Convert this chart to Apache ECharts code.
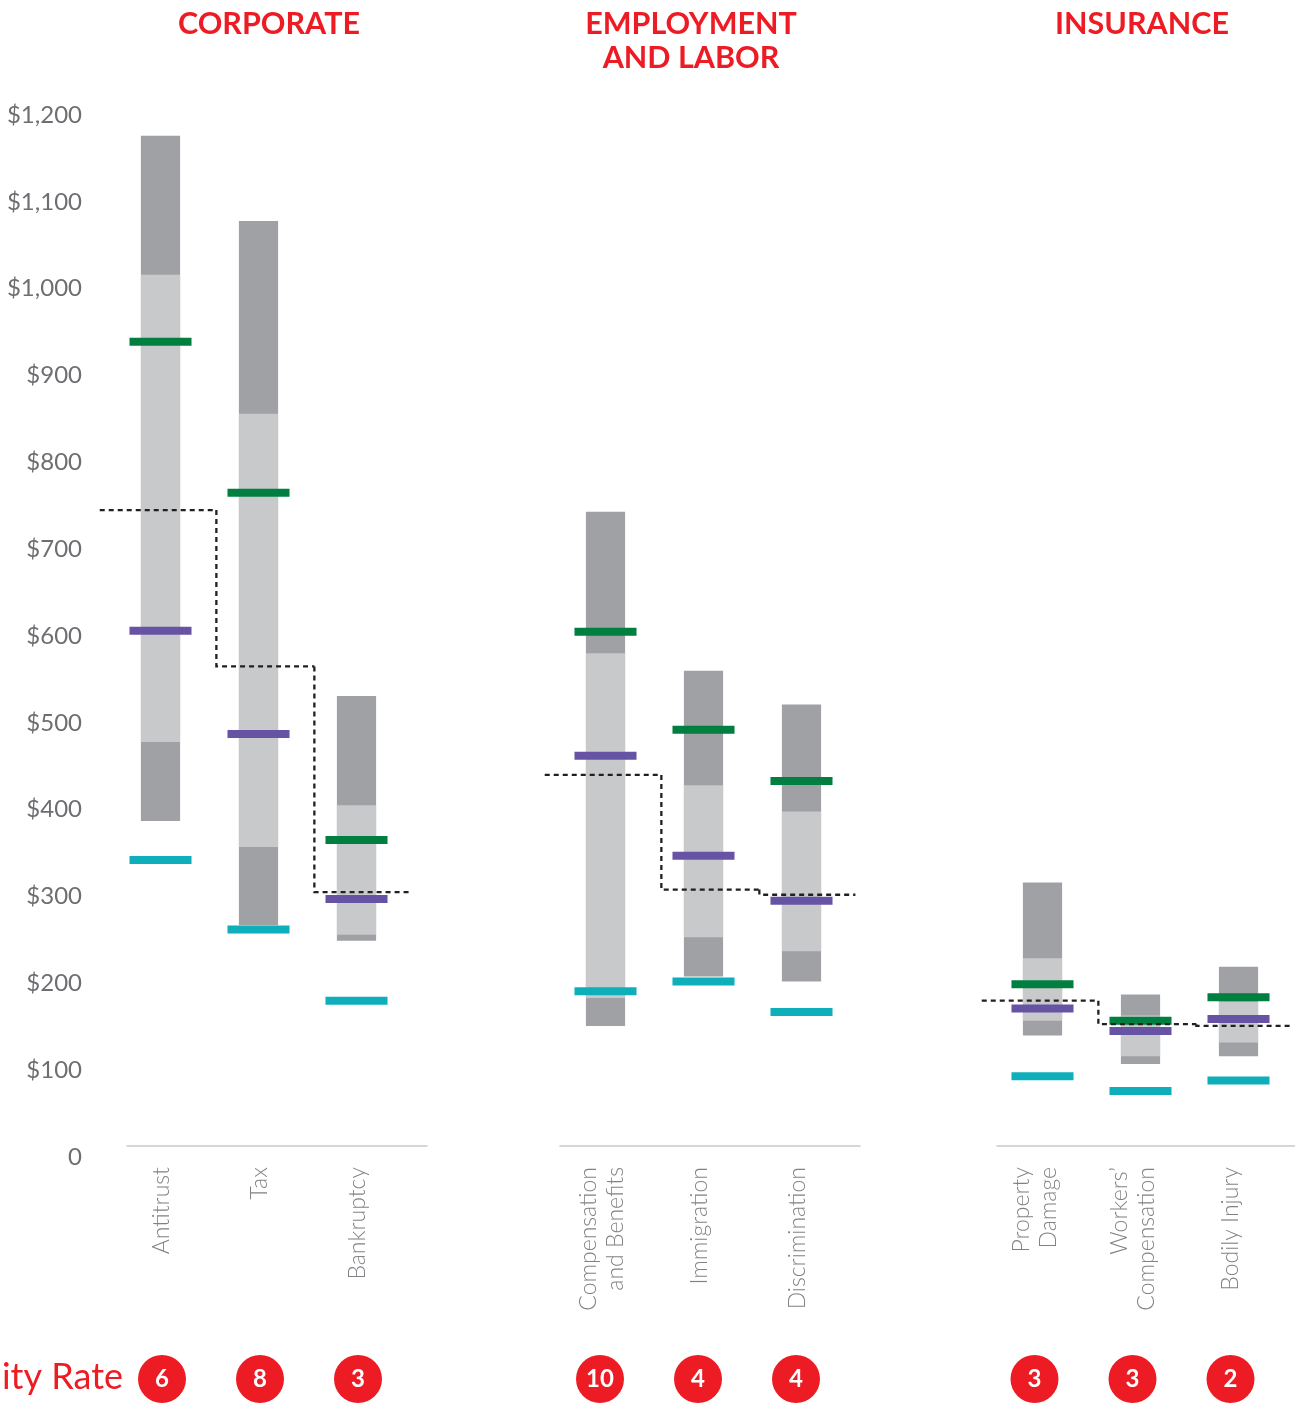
<!DOCTYPE html>
<html>
<head>
<meta charset="utf-8">
<script src="https://cdn.jsdelivr.net/npm/echarts@6/dist/echarts.min.js"></script>
<style>
html,body{margin:0;padding:0;background:#ffffff;}
#chart{width:1295px;height:1403px;}
</style>
</head>
<body>
<div id="chart"></div>
<script>
// ---- Data ----
const panelTitles = ['CORPORATE', 'EMPLOYMENT\nAND LABOR', 'INSURANCE'];
const categories = [
  ['Antitrust', 'Tax', 'Bankruptcy'],
  ['Compensation\nand Benefits', 'Immigration', 'Discrimination'],
  ['Property\nDamage', 'Workers\u2019\nCompensation', 'Bodily Injury']
];
const yTicks = [0, 100, 200, 300, 400, 500, 600, 700, 800, 900, 1000, 1100, 1200];
// values in panel order (3 per panel)
const rangeLow   = [387, 267, 249, 151, 208, 202, 140, 107, 116];
const rangeHigh  = [1176, 1078, 531, 743, 560, 521, 316, 187, 219];
const middleLow  = [478, 357, 256, 183, 253, 237, 157, 116, 132];
const middleHigh = [1016, 856, 405, 580, 428, 398, 229, 163, 179];
const greenMark  = [939, 765, 365, 605, 492, 433, 199, 157, 184];
const purpleMark = [606, 487, 297, 462, 347, 295, 171, 145, 159];
const cyanMark   = [342, 262, 180, 191, 202, 167, 93, 76, 88];
const dashedAvg  = [745, 565, 305, 440, 308, 302, 180, 153, 151];
const circleValues = [6, 8, 3, 10, 4, 4, 3, 3, 2];
const rowLabel = 'ity Rate';

// ---- Layout / style ----
const FONT = 'Lato, "Open Sans", "Noto Sans", sans-serif';
const RED = '#ed1c24';
const panelLeft = [111.5, 556.5, 993.5];
const labelLeft = [113, 553, 986];
const circleLeft = [113, 551, 985.5];
const panelWidth = 294;
const baseLeft = [127, 560, 997];
const baseWidth = [300, 300, 298];
const PLOT_TOP = 115, PLOT_BOTTOM = 246;

const grids = [], xAxes = [], yAxes = [], series = [], titles = [];
const titleCenters = [269, 691, 1142];

panelTitles.forEach((t, k) => {
  titles.push({
    text: t, left: titleCenters[k], top: 7, textAlign: 'center', padding: 0,
    textStyle: {color: RED, fontFamily: FONT, fontWeight: 'bold', fontSize: 30.5, lineHeight: 34}
  });
});

for (let k = 0; k < 3; k++) {
  const idx = [3 * k, 3 * k + 1, 3 * k + 2];
  // main plotting grid
  const gi = grids.length;
  grids.push({left: panelLeft[k], width: panelWidth, top: PLOT_TOP, bottom: PLOT_BOTTOM});
  xAxes.push({
    type: 'category', gridIndex: gi, data: categories[k],
    axisLine: {show: false}, axisTick: {show: false}, axisLabel: {show: false}
  });
  yAxes.push({
    type: 'value', gridIndex: gi, min: yTicks[0], max: yTicks[yTicks.length - 1], interval: 100,
    splitLine: {show: false}, axisLine: {show: false}, axisTick: {show: false},
    axisLabel: k === 0 ? {
      show: true, margin: 29.5, color: '#6d6e71', fontFamily: FONT, fontSize: 24,
      formatter: v => v === 0 ? '0' : '$' + v.toLocaleString('en-US')
    } : {show: false}
  });

  // range bars
  series.push({
    type: 'custom', name: 'Range', xAxisIndex: gi, yAxisIndex: gi, z: 2,
    data: idx.map((i, j) => [j, rangeLow[i], rangeHigh[i], middleLow[i], middleHigh[i]]),
    encode: {x: 0, y: [1, 2]},
    renderItem: (params, api) => {
      const x = api.value(0);
      const band = api.size([1, 0])[0];
      const w = band * 0.4;
      const lo = api.coord([x, api.value(1)]), hi = api.coord([x, api.value(2)]);
      const mlo = api.coord([x, api.value(3)]), mhi = api.coord([x, api.value(4)]);
      return {type: 'group', children: [
        {type: 'rect', shape: {x: hi[0] - w / 2, y: hi[1], width: w, height: lo[1] - hi[1]}, style: {fill: '#a0a1a4'}},
        {type: 'rect', shape: {x: mhi[0] - w / 2, y: mhi[1], width: w, height: mlo[1] - mhi[1]}, style: {fill: '#c8c9cb'}}
      ]};
    }
  });

  // markers
  [['Green', greenMark, '#007f41'], ['Purple', purpleMark, '#6753a4'], ['Cyan', cyanMark, '#0eafba']].forEach(([name, arr, color]) => {
    series.push({
      type: 'custom', name, xAxisIndex: gi, yAxisIndex: gi, z: 3,
      data: idx.map((i, j) => [j, arr[i]]),
      encode: {x: 0, y: 1},
      renderItem: (params, api) => {
        const p = api.coord([api.value(0), api.value(1)]);
        const band = api.size([1, 0])[0];
        const w = band * 0.633, h = 8;
        return {type: 'rect', shape: {x: p[0] - w / 2, y: p[1] - h / 2, width: w, height: h}, style: {fill: color}};
      }
    });
  });

  // dashed step line
  series.push({
    type: 'custom', name: 'Average', xAxisIndex: gi, yAxisIndex: gi, z: 4,
    data: idx.map((i, j) => [j, dashedAvg[i], j > 0 ? dashedAvg[i - 1] : dashedAvg[i]]),
    encode: {x: 0, y: 1},
    renderItem: (params, api) => {
      const i = api.value(0);
      const band = api.size([1, 0])[0];
      const p = api.coord([i, api.value(1)]);
      const left = p[0] - band * (i === 0 ? 0.62 : 0.43);
      const right = p[0] + band * (i === 2 ? 0.55 : 0.57);
      const pts = [];
      if (i > 0) {
        const pp = api.coord([i, api.value(2)]);
        pts.push([left, pp[1]]);
      }
      pts.push([left, p[1]], [right, p[1]]);
      return {type: 'polyline', shape: {points: pts},
        style: {stroke: '#231f20', lineWidth: 2.3, lineDash: [5, 4], fill: null}};
    }
  });

  // baseline grid (axis line only)
  const bi = grids.length;
  grids.push({left: baseLeft[k], width: baseWidth[k], top: 1100, bottom: 1403 - 1146});
  xAxes.push({type: 'category', gridIndex: bi, data: [''],
    axisLine: {show: true, lineStyle: {color: '#c8c9cc', width: 1.5}}, axisTick: {show: false}, axisLabel: {show: false}});
  yAxes.push({type: 'value', gridIndex: bi, min: 0, max: 1, show: false});

  // category label grid
  const li = grids.length;
  grids.push({left: labelLeft[k], width: panelWidth, top: 1100, bottom: 1403 - 1157});
  xAxes.push({
    type: 'category', gridIndex: li, data: categories[k],
    axisLine: {show: false}, axisTick: {show: false},
    axisLabel: {rotate: 90, margin: 10, color: '#808285', fontFamily: FONT, fontWeight: 300, fontSize: 23, lineHeight: 27, interval: 0}
  });
  yAxes.push({type: 'value', gridIndex: li, min: 0, max: 1, show: false});

  // circle row grid
  const ci = grids.length;
  grids.push({left: circleLeft[k], width: panelWidth, top: 1355, height: 48});
  xAxes.push({type: 'category', gridIndex: ci, data: categories[k], show: false});
  yAxes.push({type: 'category', gridIndex: ci, data: [''], show: false});
  series.push({
    type: 'scatter', name: 'Rate', xAxisIndex: ci, yAxisIndex: ci, z: 5,
    symbol: 'circle', symbolSize: 48,
    itemStyle: {color: RED, opacity: 1},
    data: idx.map((i, j) => [j, 0, circleValues[i]]),
    encode: {x: 0, y: 1},
    label: {show: true, position: 'inside', color: '#ffffff', fontFamily: FONT, fontWeight: 'bold', fontSize: 24,
      formatter: p => String(p.value[2])}
  });
}

const chart = echarts.init(document.getElementById('chart'), null, {renderer: 'canvas'});
chart.setOption({
  backgroundColor: '#ffffff',
  animation: false,
  title: titles,
  grid: grids,
  xAxis: xAxes,
  yAxis: yAxes,
  series: series,
  graphic: [{
    type: 'text', x: 123, y: 1377,
    style: {text: rowLabel, align: 'right', verticalAlign: 'middle', fill: RED, font: '36px ' + FONT}
  }]
});
</script>
</body>
</html>
